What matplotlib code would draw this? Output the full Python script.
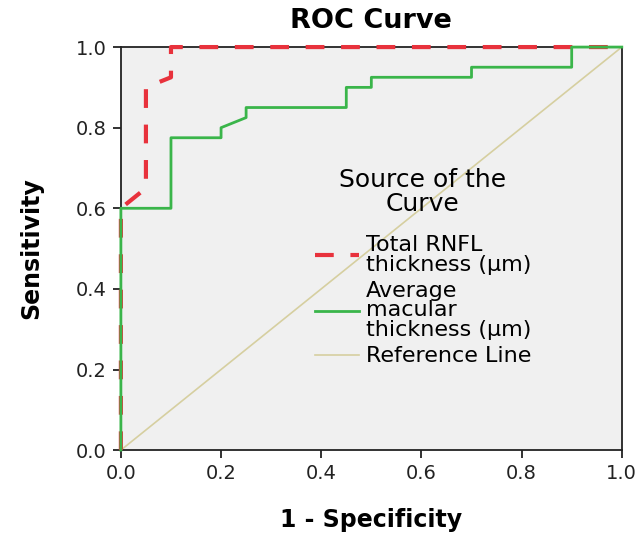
import matplotlib
matplotlib.use('Agg')
import matplotlib.pyplot as plt

# ROC points
rnfl_fpr = [0.0, 0.0, 0.05, 0.05, 0.1, 0.1, 1.0]
rnfl_tpr = [0.0, 0.6, 0.65, 0.9, 0.925, 1.0, 1.0]

mac_fpr = [0.0, 0.0, 0.1, 0.1, 0.2, 0.2, 0.25, 0.25, 0.45, 0.45, 0.5, 0.5, 0.7, 0.7, 0.9, 0.9, 1.0]
mac_tpr = [0.0, 0.6, 0.6, 0.775, 0.775, 0.8, 0.825, 0.85, 0.85, 0.9, 0.9, 0.925, 0.925, 0.95, 0.95, 1.0, 1.0]

ref_x = [0.0, 1.0]
ref_y = [0.0, 1.0]

ticks = [0.0, 0.2, 0.4, 0.6, 0.8, 1.0]
tick_labels = ['0.0', '0.2', '0.4', '0.6', '0.8', '1.0']

plt.rcParams['font.family'] = ['DejaVu Sans']

fig = plt.figure(figsize=(6.43, 5.41), dpi=100)
ax = fig.add_axes([0.188, 0.168, 0.779, 0.745])
ax.set_facecolor('#f0f0f0')

ax.plot(ref_x, ref_y, color='#d6cfa0', linewidth=1.2, label='Reference Line', zorder=2)
ax.plot(rnfl_fpr, rnfl_tpr, color='#e8323c', linewidth=3.0, dashes=(4.5, 4),
        label='Total RNFL\nthickness (\u00b5m)', zorder=3, clip_on=False)
ax.plot(mac_fpr, mac_tpr, color='#3ab54a', linewidth=2.0,
        label='Average\nmacular\nthickness (\u00b5m)', zorder=4, clip_on=False)

ax.set_xlim(0, 1)
ax.set_ylim(0, 1)
ax.set_xticks(ticks)
ax.set_xticklabels(tick_labels)
ax.set_yticks(ticks)
ax.set_yticklabels(tick_labels)
ax.tick_params(direction='out', length=6, width=1.3, labelsize=14, colors='#222222', pad=4)
for s in ax.spines.values():
    s.set_linewidth(1.3)
    s.set_color('#222222')

ax.set_title('ROC Curve', fontsize=19.5, fontweight='bold', pad=14)
ax.set_xlabel('1 - Specificity', fontsize=17, fontweight='bold', labelpad=18)
ax.set_ylabel('Sensitivity', fontsize=17, fontweight='bold', labelpad=24)

handles, labels = ax.get_legend_handles_labels()
order = [1, 2, 0]
leg = ax.legend([handles[i] for i in order], [labels[i] for i in order],
                title='Source of the\nCurve', loc='upper left',
                bbox_to_anchor=(0.387, 0.70), frameon=False,
                fontsize=16, title_fontsize=18, handlelength=2.0,
                handletextpad=0.3, labelspacing=0.3, borderaxespad=0, borderpad=0)
leg.get_title().set_multialignment('center')
leg.get_title().set_linespacing(1.0)
for t in leg.get_texts():
    t.set_linespacing(0.95)
# extra room between legend title and entries
leg._legend_box.sep = 14

plt.savefig('out.png', dpi=100)
plt.close('all')
